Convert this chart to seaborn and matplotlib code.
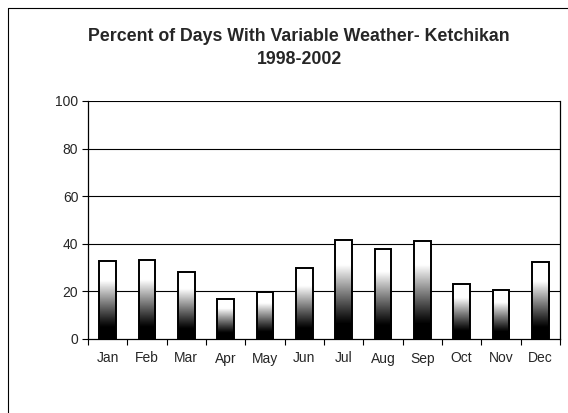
import numpy as np
import pandas as pd
import matplotlib
matplotlib.use("Agg")
import matplotlib.pyplot as plt
import seaborn as sns
from matplotlib.lines import Line2D

months = ["Jan", "Feb", "Mar", "Apr", "May", "Jun", "Jul", "Aug", "Sep", "Oct", "Nov", "Dec"]
percent = [32.6, 33.0, 28.0, 16.9, 19.8, 29.8, 41.5, 37.8, 41.2, 23.1, 20.4, 32.2]
y_ticks = [0, 20, 40, 60, 80, 100]
title = "Percent of Days With Variable Weather- Ketchikan\n1998-2002"

sns.set_style("white")
plt.rcParams['font.family'] = ['Liberation Sans', 'DejaVu Sans']

df = pd.DataFrame({"month": months, "percent": percent})

fig = plt.figure(figsize=(5.68, 4.13), dpi=100)
ax = fig.add_axes([88/568, 74/413, (560-88)/568, (339-101)/413])

sns.barplot(data=df, x="month", y="percent", ax=ax, width=0.43,
            facecolor="none", edgecolor="black", linewidth=1.4, zorder=3)

# gradient fill per bar (black bottom -> white top)
t = np.linspace(0, 1, 256)
g = np.clip((t - 0.15) / 0.6, 0, 1) ** 1.1
grad = g.reshape(-1, 1)
for p in ax.patches:
    x0, y0 = p.get_x(), p.get_y()
    w, h = p.get_width(), p.get_height()
    im = ax.imshow(grad, cmap="gray", vmin=0, vmax=1, origin="lower",
                   extent=[x0, x0 + w, y0, y0 + h], aspect="auto", zorder=2,
                   interpolation="bilinear")
    im.set_clip_path(p)

ax.set_xlim(-0.5, 11.5)
ax.set_ylim(0, 100)
ax.set_yticks(y_ticks)
ax.set_xlabel("")
ax.set_ylabel("")
for yv in y_ticks[1:]:
    ax.axhline(yv, color="black", linewidth=0.8, zorder=1)

ax.set_xticks(range(12))
ax.set_xticklabels(months, fontsize=10)
ax.set_xticks(np.arange(-0.5, 12, 1), minor=True)
ax.tick_params(axis="x", which="major", length=0, pad=9)
ax.tick_params(axis="x", which="minor", length=4, width=0.8, color="black", direction="out", bottom=True)
ax.tick_params(axis="y", length=4, width=0.8, color="black", direction="out", left=True, labelsize=10, pad=3)

for s in ["left", "right", "bottom"]:
    ax.spines[s].set_visible(True)
    ax.spines[s].set_color("black")
    ax.spines[s].set_linewidth(0.9)
ax.spines["top"].set_visible(False)

fig.text(299/568, 1 - 48/413, title, ha="center", va="center", fontsize=12.8,
         fontweight="bold", linespacing=1.5)

# outer chart border (top and left visible)
fig.add_artist(Line2D([8/568, 1], [1 - 8/413, 1 - 8/413], color="black", linewidth=0.8))
fig.add_artist(Line2D([8/568, 8/568], [0, 1 - 8/413], color="black", linewidth=0.8))

fig.savefig("out.png", dpi=100)
